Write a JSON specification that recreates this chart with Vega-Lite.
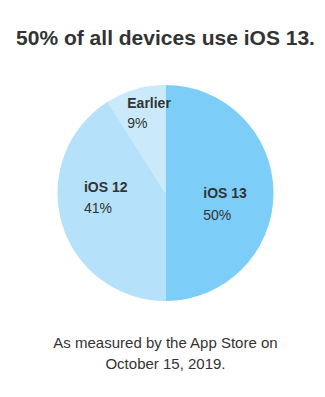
{
  "$schema": "https://vega.github.io/schema/vega-lite/v6.json",
  "padding": {"top": 28, "left": 3, "right": 0, "bottom": 0},
  "background": "white",
  "config": {"view": {"stroke": null}, "font": "Liberation Sans"},
  "title": {"text": "50% of all devices use iOS 13.", "fontSize": 21, "fontWeight": "bold", "color": "#333333", "anchor": "middle", "offset": 10},
  "vconcat": [
    {
      "width": 325,
      "height": 268,
      "title": {"text": ["As measured by the App Store on", "October 15, 2019."], "orient": "bottom", "fontSize": 15, "fontWeight": "normal", "color": "#333333", "lineHeight": 21, "offset": 9, "anchor": "middle"},
      "data": {"values": [
        {"label": "iOS 13", "pct": "50%", "value": 50, "order": 1},
        {"label": "iOS 12", "pct": "41%", "value": 41, "order": 2},
        {"label": "Earlier", "pct": "9%", "value": 9, "order": 3}
      ]},
      "encoding": {
        "theta": {"field": "value", "type": "quantitative", "stack": true},
        "order": {"field": "order", "type": "quantitative"}
      },
      "layer": [
        {
          "mark": {"type": "arc", "outerRadius": 108},
          "encoding": {
            "color": {"field": "label", "type": "nominal", "scale": {"domain": ["iOS 13", "iOS 12", "Earlier"], "range": ["#7dcdf9", "#b5e1fa", "#caeafc"]}, "legend": null}
          }
        },
        {
          "mark": {"type": "text", "radius": 60, "align": "left", "baseline": "alphabetic", "fontSize": 14, "fontWeight": "bold", "color": "#333333", "dx": -22.2, "dy": 5},
          "encoding": {"text": {"condition": {"test": "datum.label === 'iOS 13'", "field": "label"}, "value": ""}}
        },
        {
          "mark": {"type": "text", "radius": 60, "align": "left", "baseline": "alphabetic", "fontSize": 14, "fontWeight": "normal", "color": "#333333", "dx": -22.2, "dy": 26.5},
          "encoding": {"text": {"condition": {"test": "datum.label === 'iOS 13'", "field": "pct"}, "value": ""}}
        },
        {
          "mark": {"type": "text", "radius": 60, "align": "left", "baseline": "alphabetic", "fontSize": 14, "fontWeight": "bold", "color": "#333333", "dx": -23.9, "dy": -17.7},
          "encoding": {"text": {"condition": {"test": "datum.label === 'iOS 12'", "field": "label"}, "value": ""}}
        },
        {
          "mark": {"type": "text", "radius": 60, "align": "left", "baseline": "alphabetic", "fontSize": 14, "fontWeight": "normal", "color": "#333333", "dx": -23.9, "dy": 2.8},
          "encoding": {"text": {"condition": {"test": "datum.label === 'iOS 12'", "field": "pct"}, "value": ""}}
        },
        {
          "mark": {"type": "text", "radius": 60, "align": "left", "baseline": "alphabetic", "fontSize": 14, "fontWeight": "bold", "color": "#333333", "dx": -21.5, "dy": -27},
          "encoding": {"text": {"condition": {"test": "datum.label === 'Earlier'", "field": "label"}, "value": ""}}
        },
        {
          "mark": {"type": "text", "radius": 60, "align": "left", "baseline": "alphabetic", "fontSize": 14, "fontWeight": "normal", "color": "#333333", "dx": -21.5, "dy": -7},
          "encoding": {"text": {"condition": {"test": "datum.label === 'Earlier'", "field": "pct"}, "value": ""}}
        }
      ]
    }
  ]
}
